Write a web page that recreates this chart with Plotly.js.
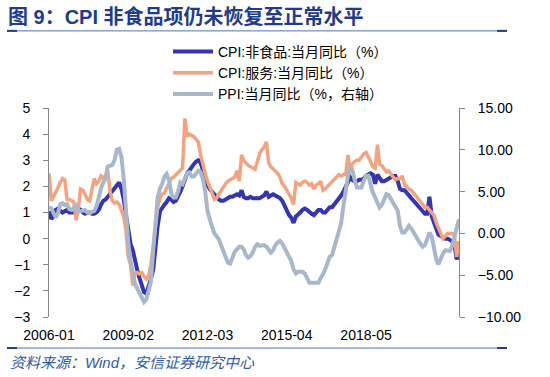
<!DOCTYPE html>
<html>
<head>
<meta charset="utf-8">
<script src="https://cdn.plot.ly/plotly-3.0.1.min.js"></script>
<style>html,body{margin:0;padding:0;background:#fff;}#chart{width:550px;height:377px;}</style>
</head>
<body>
<div id="chart"></div>
<script>
// Monthly data, 2006-01 .. 2021-02
var startYear = 2006, startMonth = 1, nMonths = 182;
var tickLabels = ['2006-01', '2009-02', '2012-03', '2015-04', '2018-05'];
var seriesNames = ['CPI:非食品:当月同比（%）', 'CPI:服务:当月同比（%）', 'PPI:当月同比（%，右轴）'];

var cpiNonFood = [
  1.05, 0.75, 0.85, 1.1, 1.15, 1.05, 1.0, 1.05, 1.1, 1.0, 1.0, 1.0,
  1.0, 1.05, 1.1, 1.0, 0.95, 1.0, 1.0, 0.95, 0.95, 1.0, 1.1, 1.3,
  1.45, 1.5, 1.6, 1.7, 1.8, 1.95, 2.05, 2.15, 1.9, 1.5, 0.9, 0.3,
  -0.2, -0.45, -0.9, -1.2, -1.5, -1.8, -2.05, -2.1, -1.85, -1.55, -1.2, -0.3,
  0.5, 1.05, 1.2, 1.3, 1.4, 1.55, 1.5, 1.4, 1.45, 1.6, 1.8, 2.0,
  2.3, 2.5, 2.6, 2.75, 2.85, 2.95, 3.0, 2.9, 2.6, 2.35, 2.05, 1.9,
  1.8, 1.7, 1.55, 1.5, 1.45, 1.45, 1.5, 1.55, 1.6, 1.6, 1.65, 1.7,
  1.65, 1.85, 1.6, 1.55, 1.55, 1.6, 1.55, 1.55, 1.55, 1.55, 1.6, 1.65,
  1.8, 1.6, 1.65, 1.7, 1.65, 1.6, 1.55, 1.45, 1.25, 1.05, 0.9, 0.8,
  0.6, 0.85, 0.95, 1.0, 1.1, 1.15, 1.1, 1.0, 0.95, 0.9, 1.0, 1.1,
  1.1, 1.0, 1.0, 1.1, 1.2, 1.2, 1.3, 1.4, 1.5, 1.65, 1.8, 2.0,
  2.2, 2.35, 2.25, 2.2, 2.2, 2.25, 2.25, 2.3, 2.4, 2.45, 2.5, 2.45,
  2.1, 2.45, 2.3, 2.2, 2.2, 2.25, 2.3, 2.35, 2.4, 2.4, 2.2, 1.9,
  1.85, 1.85, 1.75, 1.6, 1.55, 1.45, 1.35, 1.2, 1.1, 1.0, 0.95, 0.95,
  1.6, 0.85, 0.6, 0.4, 0.15, 0.1, 0.05, 0.0, 0.0, -0.05, -0.1, -0.2,
  -0.8, -0.45
];

var cpiServices = [
  2.5, 1.45, 1.6, 1.75, 1.95, 2.15, 2.3, 2.25, 1.5, 1.5, 1.45, 1.4,
  0.7, 1.2, 1.9, 1.85, 1.7, 1.5, 1.45, 1.9, 2.3, 2.1, 2.2, 2.4,
  2.3, 2.45, 2.6, 1.8, 1.45, 1.35, 1.4, 1.3, 1.1, 0.85, 0.3, -0.7,
  -1.0, -1.8, -1.35, -1.3, -1.35, -1.3, -1.45, -1.55, -1.4, -1.0, -0.3, 0.5,
  1.2, 1.55, 1.7, 1.75, 1.95, 2.1, 2.3, 2.35, 2.45, 2.5, 2.6, 2.7,
  4.6, 3.9, 4.0, 3.95, 3.9, 3.8, 3.7, 3.2, 2.8, 2.5, 2.2, 2.0,
  1.75, 1.5, 1.55, 1.7, 1.85, 1.95, 2.1, 2.2, 2.25, 2.3, 2.35, 2.6,
  2.2, 3.2, 3.0, 2.9, 2.8, 2.75, 2.7, 2.65, 2.95, 3.25, 3.4, 3.5,
  3.7, 2.9, 2.75, 2.65, 2.6, 2.5, 2.35, 2.1, 2.0, 1.85, 1.7, 1.55,
  1.3, 2.15, 2.1, 2.05, 2.15, 2.2, 2.15, 2.05, 2.1, 1.9, 2.05, 2.1,
  2.2, 1.85, 1.9, 2.0, 2.1, 2.2, 2.3, 2.35, 2.45, 2.4, 2.45, 2.45,
  3.2, 2.55, 2.85, 2.95, 3.0, 3.0, 3.1, 3.25, 3.3, 3.15, 2.95, 2.75,
  2.7, 3.6, 2.85, 2.8, 2.7, 2.55, 2.6, 2.45, 2.35, 2.25, 2.3, 2.3,
  2.4, 2.05, 2.0, 1.9, 1.85, 1.75, 1.65, 1.55, 1.4, 1.3, 1.2, 1.2,
  1.1, 1.0, 0.9, 0.6, 0.4, 0.25, 0.0, 0.1, 0.2, 0.2, 0.2, 0.15,
  -0.7, -0.1
];

var ppi = [
  3.1, 3.0, 2.5, 1.9, 2.4, 3.5, 3.6, 3.4, 3.5, 2.9, 2.8, 3.1,
  3.3, 2.6, 2.7, 2.8, 2.8, 2.5, 2.4, 2.6, 2.7, 3.2, 4.6, 5.4,
  6.1, 6.6, 8.0, 8.1, 8.2, 8.8, 10.0, 10.1, 9.1, 6.6, 2.0, -1.1,
  -3.3, -4.5, -6.0, -6.6, -7.2, -7.8, -8.2, -7.9, -7.0, -5.8, -2.1, 1.7,
  4.3, 5.4, 5.9, 6.8, 7.1, 6.4, 4.8, 4.3, 4.3, 5.0, 6.1, 5.9,
  6.6, 7.2, 7.3, 6.8, 6.8, 7.1, 7.5, 7.3, 6.5, 5.0, 2.7, 1.7,
  0.7, 0.0, -0.3, -0.7, -1.4, -2.1, -2.9, -3.5, -3.6, -2.8, -2.2, -1.9,
  -1.6, -1.6, -1.9, -2.6, -2.9, -2.7, -2.3, -1.6, -1.3, -1.5, -1.4, -1.4,
  -1.6, -2.0, -2.3, -2.0, -1.4, -1.1, -0.9, -1.2, -1.8, -2.2, -2.7, -3.3,
  -4.3, -4.8, -4.6, -4.6, -4.6, -4.8, -5.4, -5.9, -5.9, -5.9, -5.9, -5.9,
  -5.3, -4.9, -4.3, -3.4, -2.8, -2.6, -1.7, -0.8, 0.1, 1.2, 3.3, 5.5,
  6.9, 7.8, 7.6, 6.4, 5.5, 5.5, 5.5, 6.3, 6.9, 6.9, 5.8, 4.9,
  4.3, 3.7, 3.1, 3.4, 4.1, 4.7, 4.6, 4.1, 3.6, 3.3, 2.7, 0.9,
  0.1, 0.1, 0.4, 0.9, 0.6, 0.0, -0.3, -0.8, -1.2, -1.6, -1.4, -0.5,
  0.1, -0.4, -1.5, -3.1, -3.7, -3.0, -2.4, -2.0, -2.1, -2.1, -1.5, -0.4,
  0.3, 1.7
];

function pad(n){ return (n < 10 ? '0' : '') + n; }
var dates = [];
for (var i = 0; i < nMonths; i++) {
  var y = startYear + Math.floor((startMonth - 1 + i) / 12);
  var m = (startMonth - 1 + i) % 12 + 1;
  dates.push(y + '-' + pad(m) + '-01');
}
// label positions as drawn in the reference (every 35 months), zero-line ticks every 37 months
var labelVals = [], zeroTickVals = [];
for (var k = 0; k < tickLabels.length; k++) {
  labelVals.push(dates[k * 35]);
  zeroTickVals.push(dates[k * 37]);
}

var FONT = 'Liberation Sans, Arial, Noto Sans CJK SC, sans-serif';
var CJK = 'Liberation Sans, Noto Sans CJK SC, sans-serif';

var traces = [
  { x: dates, y: cpiNonFood, name: seriesNames[0], type: 'scatter', mode: 'lines',
    line: { color: '#3535AE', width: 4 }, xaxis: 'x', yaxis: 'y' },
  { x: dates, y: cpiServices, name: seriesNames[1], type: 'scatter', mode: 'lines',
    line: { color: '#F2A482', width: 3.5 }, xaxis: 'x', yaxis: 'y' },
  { x: dates, y: ppi, name: seriesNames[2], type: 'scatter', mode: 'lines',
    line: { color: '#A9B7CB', width: 4 }, xaxis: 'x', yaxis: 'y2' }
];

var xRange = [dates[0], dates[nMonths - 1]];
var blueLine = '#4A72C0', blueEnd = '#1F3C88';

var layout = {
  width: 550, height: 377,
  margin: { l: 49, r: 91, t: 108, b: 60, pad: 0, autoexpand: false },
  paper_bgcolor: '#fff', plot_bgcolor: '#fff',
  showlegend: true,
  font: { family: FONT, size: 14, color: '#000' },
  title: {
    text: '图 9：CPI 非食品项仍未恢复至正常水平',
    font: { family: CJK, size: 20, color: '#1F3C88', weight: 'bold' },
    xref: 'container', yref: 'container', x: 8 / 550, xanchor: 'left',
    y: 1 - 17 / 377, yanchor: 'middle', pad: { t: 0, b: 0, l: 0, r: 0 },
    automargin: false
  },
  legend: {
    xref: 'container', yref: 'container', x: 168 / 550, y: 1 - 36 / 377,
    xanchor: 'left', yanchor: 'top', bgcolor: 'rgba(0,0,0,0)',
    font: { family: CJK, size: 14, color: '#000' },
    tracegroupgap: 0, itemwidth: 40, traceorder: 'normal', entrywidthmode: 'pixels'
  },
  xaxis: {
    type: 'date', range: xRange, showgrid: false, zeroline: false, showline: false,
    tickmode: 'array', tickvals: labelVals, ticktext: tickLabels, tickangle: 0,
    ticks: '', ticklabelstandoff: 8, tickfont: { family: FONT, size: 14, color: '#000' },
    automargin: false
  },
  xaxis2: {
    type: 'date', range: xRange, overlaying: 'x', anchor: 'free', position: 0.375,
    showgrid: false, zeroline: false, showline: true, linecolor: '#888', linewidth: 1,
    tickmode: 'array', tickvals: zeroTickVals, ticks: 'inside', ticklen: 4, tickcolor: '#888',
    showticklabels: false, automargin: false
  },
  yaxis: {
    range: [-3, 5], dtick: 1, tick0: 0, showgrid: false, zeroline: false,
    showline: true, linecolor: '#888', linewidth: 1,
    ticks: 'outside', ticklen: 5, tickcolor: '#888', ticklabelstandoff: 10,
    tickfont: { family: FONT, size: 14, color: '#000' }, automargin: false
  },
  yaxis2: {
    range: [-10, 15], dtick: 5, tick0: 0, overlaying: 'y', side: 'right', anchor: 'x',
    showgrid: false, zeroline: false, showline: true, linecolor: '#888', linewidth: 1,
    ticks: 'outside', ticklen: 5, tickcolor: '#888', tickformat: '.2f', ticklabelstandoff: 10,
    tickfont: { family: FONT, size: 14, color: '#000' }, automargin: false
  },
  shapes: [
    { type: 'line', xref: 'paper', yref: 'paper', x0: -0.1024, x1: 1.117, y0: 1.369, y1: 1.369,
      line: { color: blueLine, width: 1 } },
    { type: 'line', xref: 'paper', yref: 'paper', x0: -0.1024, x1: -0.078, y0: 1.369, y1: 1.369,
      line: { color: blueEnd, width: 2 } },
    { type: 'line', xref: 'paper', yref: 'paper', x0: 1.093, x1: 1.117, y0: 1.369, y1: 1.369,
      line: { color: blueEnd, width: 2 } },
    { type: 'line', xref: 'paper', yref: 'paper', x0: -0.1024, x1: 1.117, y0: -0.1485, y1: -0.1485,
      line: { color: blueLine, width: 1 } },
    { type: 'line', xref: 'paper', yref: 'paper', x0: -0.1024, x1: -0.078, y0: -0.1485, y1: -0.1485,
      line: { color: blueEnd, width: 2 } },
    { type: 'line', xref: 'paper', yref: 'paper', x0: 1.093, x1: 1.117, y0: -0.1485, y1: -0.1485,
      line: { color: blueEnd, width: 2 } }
  ],
  annotations: [
    { text: '资料来源：Wind，安信证券研究中心', xref: 'paper', yref: 'paper',
      x: -0.1, y: -0.217, xanchor: 'left', yanchor: 'middle', showarrow: false,
      font: { family: CJK, size: 15, color: '#2F5BA8', style: 'italic' } }
  ]
};

Plotly.newPlot('chart', traces, layout, { staticPlot: true, displayModeBar: false });
</script>
</body>
</html>
